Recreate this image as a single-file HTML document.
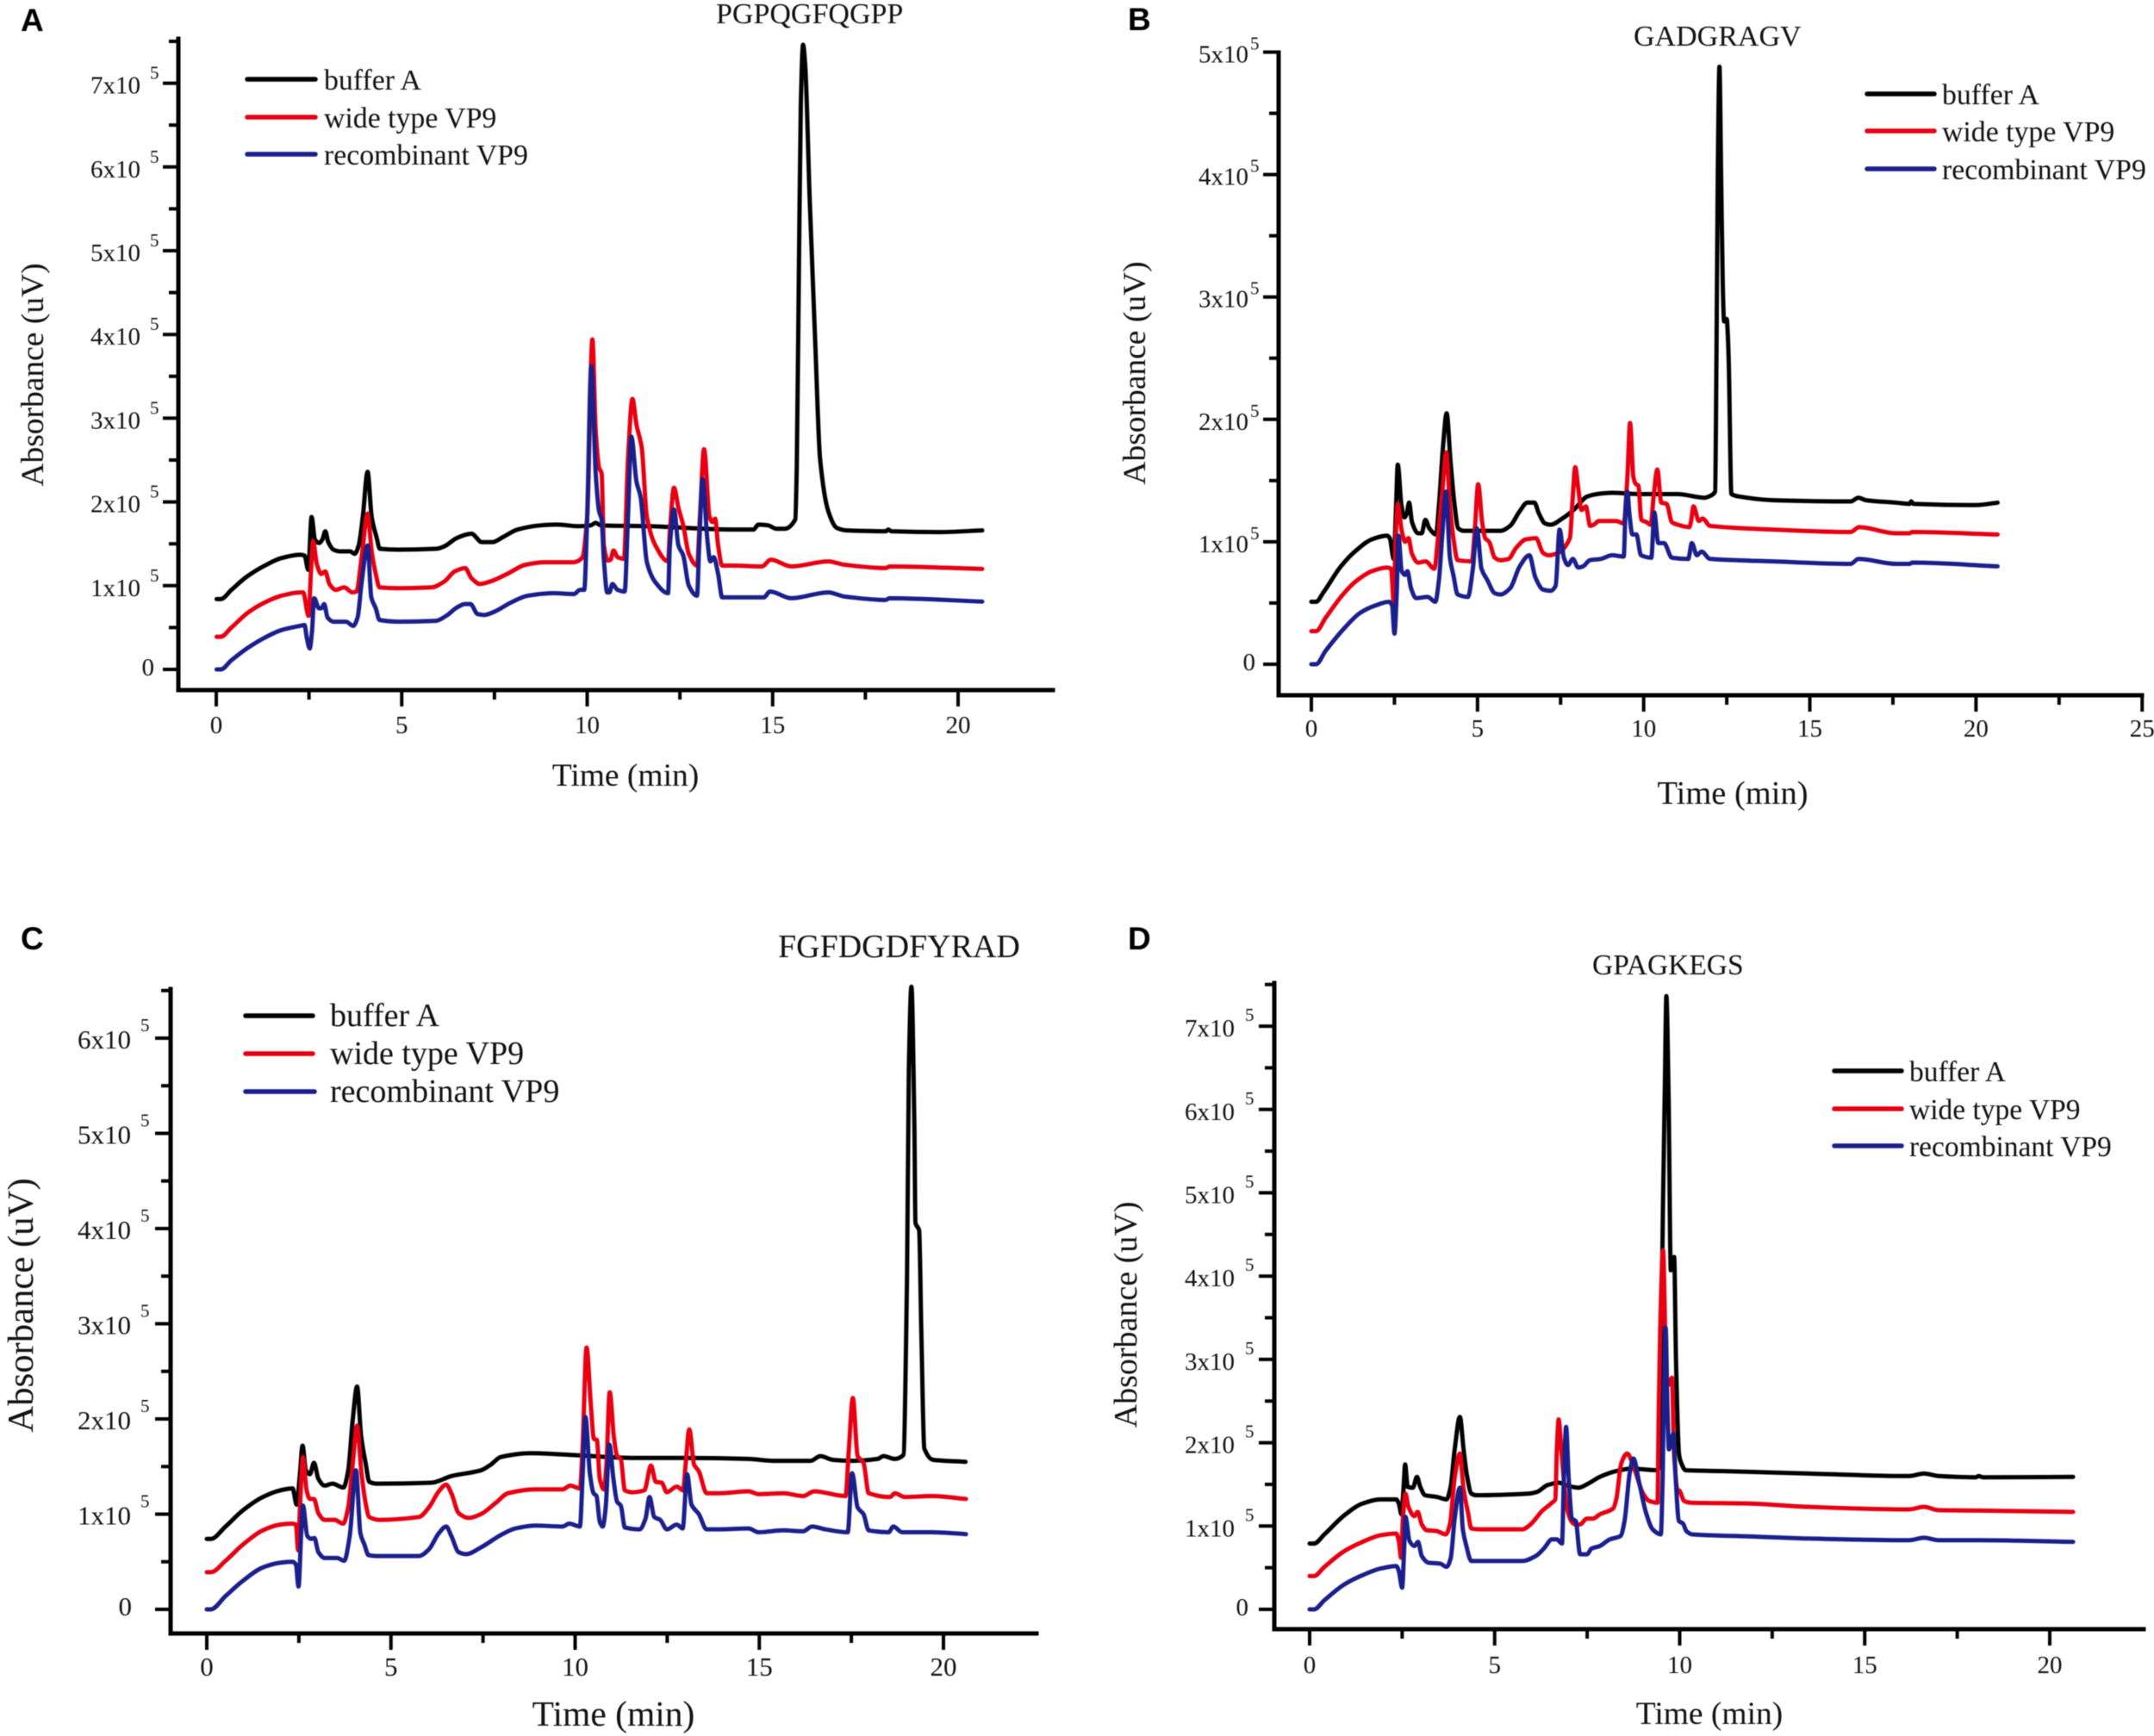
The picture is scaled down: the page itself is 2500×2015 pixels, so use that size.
<!DOCTYPE html>
<html lang="en">
<head>
<meta charset="utf-8">
<title>Absorbance chromatograms of four peptides</title>
<style>
html,body{margin:0;padding:0;background:#fff;}
svg{display:block;filter:blur(0.5px);}
text{font-family:"Liberation Serif",serif;fill:#111;}
.letter{font-family:"Liberation Sans",sans-serif;font-weight:700;font-size:37px;fill:#000;}
.curve{fill:none;stroke-width:5;stroke-linejoin:round;stroke-linecap:round;}
.legline{stroke-width:5.5;stroke-linecap:round;}
</style>
</head>
<body>
<svg id="figure" xmlns="http://www.w3.org/2000/svg" width="2500" height="2015" viewBox="0 0 2500 2015">
<rect width="2500" height="2015" fill="#fff"/>

<g id="panel-a">
<text class="letter" x="24" y="36">A</text>
<text x="831" y="27" font-size="34">PGPQGFQGPP</text>
<text x="726" y="912" font-size="37.5" text-anchor="middle">Time (min)</text>
<text transform="translate(50,435) rotate(-90)" font-size="37.5" text-anchor="middle">Absorbance (uV)</text>
<g>
<line class="legline" x1="287" y1="92" x2="366" y2="92" stroke="#000"/>
<text x="376" y="104" font-size="33.8">buffer A</text>
<line class="legline" x1="287" y1="136" x2="366" y2="136" stroke="#e60012"/>
<text x="376" y="148" font-size="33.8">wide type VP9</text>
<line class="legline" x1="287" y1="179" x2="366" y2="179" stroke="#1a1f8c"/>
<text x="376" y="191" font-size="33.8">recombinant VP9</text>
</g>
</g>

<g id="panel-b">
<text class="letter" x="1309" y="35">B</text>
<text x="1896" y="53" font-size="34">GADGRAGV</text>
<text x="2011" y="933" font-size="38.5" text-anchor="middle">Time (min)</text>
<text transform="translate(1329,433) rotate(-90)" font-size="37.5" text-anchor="middle">Absorbance (uV)</text>
<g>
<line class="legline" x1="2167" y1="109" x2="2245" y2="109" stroke="#000"/>
<text x="2254" y="121" font-size="33.8">buffer A</text>
<line class="legline" x1="2167" y1="152" x2="2245" y2="152" stroke="#e60012"/>
<text x="2254" y="164" font-size="33.8">wide type VP9</text>
<line class="legline" x1="2167" y1="196" x2="2245" y2="196" stroke="#1a1f8c"/>
<text x="2254" y="208" font-size="33.8">recombinant VP9</text>
</g>
</g>

<g id="panel-c">
<text class="letter" x="24" y="1102">C</text>
<text x="903" y="1111" font-size="38">FGFDGDFYRAD</text>
<text x="712" y="2003" font-size="41.5" text-anchor="middle">Time (min)</text>
<text transform="translate(38,1515) rotate(-90)" font-size="42.7" text-anchor="middle">Absorbance (uV)</text>
<g>
<line class="legline" x1="285" y1="1179" x2="363" y2="1179" stroke="#000"/>
<text x="383" y="1191" font-size="38">buffer A</text>
<line class="legline" x1="285" y1="1223" x2="363" y2="1223" stroke="#e60012"/>
<text x="383" y="1235" font-size="38">wide type VP9</text>
<line class="legline" x1="285" y1="1267" x2="365" y2="1267" stroke="#1a1f8c"/>
<text x="383" y="1279" font-size="38">recombinant VP9</text>
</g>
</g>

<g id="panel-d">
<text class="letter" x="1309" y="1102">D</text>
<text x="1848" y="1131" font-size="33.5">GPAGKEGS</text>
<text x="1984" y="2001" font-size="37.5" text-anchor="middle">Time (min)</text>
<text transform="translate(1319,1526) rotate(-90)" font-size="38" text-anchor="middle">Absorbance (uV)</text>
<g>
<line class="legline" x1="2129" y1="1243" x2="2207" y2="1243" stroke="#000"/>
<text x="2216" y="1255" font-size="33.5">buffer A</text>
<line class="legline" x1="2129" y1="1287" x2="2207" y2="1287" stroke="#e60012"/>
<text x="2216" y="1299" font-size="33.5">wide type VP9</text>
<line class="legline" x1="2129" y1="1330" x2="2207" y2="1330" stroke="#1a1f8c"/>
<text x="2216" y="1342" font-size="33.5">recombinant VP9</text>
</g>
</g>
</svg>

<script>
// Values: time in minutes, absorbance in units of 10^5 uV.
const xTickValues = [0, 5, 10, 15, 20];
const xTickValuesB = [0, 5, 10, 15, 20, 25];
const yTickValuesA = [0, 1, 2, 3, 4, 5, 6, 7];
const yTickValuesB = [0, 1, 2, 3, 4, 5];
const yTickValuesC = [0, 1, 2, 3, 4, 5, 6];
const yTickValuesD = [0, 1, 2, 3, 4, 5, 6, 7];

const timeA_buffer = [0.01,0.12,0.41,0.80,1.31,1.76,2.26,2.38,2.48,2.57,2.66,2.77,2.86,2.94,3.02,3.16,3.33,3.61,3.73,3.84,3.95,4.08,4.19,4.32,4.41,4.91,5.92,6.15,6.49,6.88,7.16,7.44,7.73,8.12,8.74,9.19,9.75,10.09,10.23,10.37,11.67,13.92,14.48,14.62,14.88,15.10,15.33,15.61,15.65,15.71,15.76,15.82,15.88,16.00,16.15,16.28,16.50,16.73,17.00,18.05,18.12,18.20,19.50,20.65];
const absA_buffer  = [0.84,0.84,0.95,1.10,1.24,1.33,1.37,1.36,1.19,1.82,1.55,1.51,1.55,1.65,1.52,1.43,1.41,1.41,1.38,1.48,1.82,2.36,1.82,1.58,1.44,1.43,1.44,1.47,1.57,1.62,1.52,1.52,1.58,1.67,1.72,1.73,1.71,1.72,1.75,1.72,1.71,1.67,1.67,1.73,1.72,1.68,1.68,1.79,2.40,4.87,6.75,7.46,7.20,5.60,3.88,2.51,1.89,1.69,1.66,1.65,1.67,1.65,1.64,1.66];
const timeA_wild = [0.01,0.12,0.41,0.86,1.31,1.76,2.26,2.34,2.49,2.55,2.61,2.71,2.83,2.94,3.05,3.22,3.45,3.67,3.78,3.92,4.08,4.19,4.30,4.40,4.91,5.81,6.15,6.43,6.71,6.88,7.11,7.39,7.84,8.34,8.85,9.64,9.86,10.00,10.14,10.23,10.32,10.39,10.45,10.56,10.63,10.71,10.82,10.99,11.10,11.22,11.33,11.47,11.61,11.84,12.18,12.23,12.34,12.46,12.59,12.74,12.96,13.04,13.15,13.30,13.38,13.45,13.53,13.64,13.92,14.71,14.95,15.50,16.50,16.94,18.05,18.15,20.65];
const absA_wild  = [0.39,0.39,0.50,0.68,0.80,0.88,0.92,0.92,0.64,1.14,1.53,1.26,1.14,1.17,1.02,0.95,0.98,0.92,0.93,1.34,1.86,1.41,1.14,0.98,0.97,0.98,1.05,1.17,1.21,1.09,1.02,1.05,1.14,1.25,1.28,1.28,1.33,1.82,3.94,2.85,2.41,2.34,1.48,1.30,1.31,1.42,1.34,1.32,2.51,3.23,2.92,2.65,1.82,1.48,1.29,1.65,2.17,1.93,1.72,1.38,1.24,1.82,2.63,1.82,1.76,1.80,1.48,1.24,1.24,1.23,1.31,1.23,1.29,1.25,1.21,1.23,1.20];
const timeA_recomb = [0.01,0.12,0.41,0.86,1.31,1.76,2.26,2.38,2.44,2.52,2.58,2.64,2.77,2.83,2.91,3.00,3.16,3.50,3.69,3.81,3.92,4.08,4.18,4.30,4.40,4.91,5.92,6.20,6.49,6.71,6.85,7.05,7.22,7.50,7.95,8.40,9.08,9.64,9.81,9.92,10.00,10.11,10.23,10.32,10.39,10.45,10.54,10.60,10.68,10.82,11.01,11.10,11.19,11.33,11.44,11.61,11.84,12.18,12.23,12.34,12.46,12.59,12.74,12.96,13.02,13.11,13.24,13.32,13.41,13.53,13.64,13.92,14.76,14.93,15.50,16.50,16.94,18.05,18.15,20.65];
const absA_recomb  = [0.00,0.00,0.11,0.26,0.38,0.47,0.52,0.53,0.38,0.25,0.45,0.85,0.73,0.73,0.78,0.62,0.57,0.57,0.52,0.62,1.04,1.48,0.86,0.73,0.59,0.57,0.58,0.64,0.74,0.78,0.78,0.66,0.65,0.69,0.80,0.88,0.91,0.90,0.95,0.95,1.82,3.62,2.34,1.89,1.79,1.31,0.92,0.92,1.02,0.95,0.93,1.82,2.78,2.24,2.06,1.28,1.04,0.91,1.48,1.91,1.48,1.36,1.00,0.88,1.48,2.27,1.55,1.29,1.34,1.14,0.86,0.86,0.86,0.93,0.85,0.92,0.87,0.83,0.85,0.81];

const timeB_buffer = [0.00,0.14,0.37,0.89,1.35,1.82,2.28,2.36,2.48,2.55,2.60,2.71,2.80,2.87,2.94,3.03,3.21,3.32,3.43,3.55,3.75,3.84,3.96,4.07,4.19,4.31,4.42,4.59,5.69,5.98,6.27,6.50,6.71,6.85,7.03,7.20,7.55,7.89,8.30,8.59,9.05,9.86,11.02,11.83,12.04,12.15,12.19,12.23,12.28,12.33,12.38,12.42,12.50,12.53,12.56,12.64,12.87,13.91,16.23,16.46,16.69,17.59,18.00,18.05,18.12,20.00,20.65];
const absB_buffer  = [0.51,0.51,0.59,0.80,0.93,1.02,1.05,1.03,0.86,1.30,1.63,1.30,1.20,1.23,1.32,1.16,1.07,1.07,1.18,1.11,1.06,1.30,1.77,2.05,1.65,1.30,1.11,1.09,1.09,1.13,1.25,1.32,1.32,1.23,1.15,1.14,1.19,1.26,1.37,1.39,1.40,1.39,1.39,1.36,1.38,1.41,2.50,4.00,4.88,4.00,3.10,2.80,2.82,2.70,2.47,1.39,1.37,1.34,1.33,1.36,1.34,1.32,1.31,1.33,1.31,1.30,1.32];
const timeB_wild = [0.00,0.14,0.43,0.95,1.35,1.82,2.28,2.40,2.48,2.53,2.60,2.72,2.82,2.92,3.03,3.21,3.44,3.70,3.82,3.94,4.06,4.17,4.28,4.40,4.83,4.91,5.02,5.14,5.23,5.35,5.52,5.69,5.93,6.16,6.45,6.76,6.97,7.14,7.43,7.78,7.86,7.94,8.03,8.13,8.26,8.39,8.50,8.65,9.17,9.40,9.51,9.59,9.69,9.77,9.84,9.93,10.09,10.21,10.30,10.41,10.53,10.69,10.85,11.02,11.37,11.42,11.50,11.66,11.77,12.00,13.91,16.23,16.48,17.59,18.00,18.08,20.65];
const absB_wild  = [0.27,0.27,0.38,0.57,0.68,0.76,0.79,0.78,0.50,0.97,1.31,1.09,1.00,1.03,0.90,0.83,0.84,0.78,1.06,1.41,1.73,1.30,1.02,0.85,0.84,1.06,1.47,1.16,1.03,1.00,0.87,0.85,0.86,0.95,1.02,1.03,0.91,0.89,0.91,1.03,1.34,1.61,1.44,1.26,1.29,1.13,1.14,1.17,1.17,1.15,1.53,1.97,1.53,1.47,1.46,1.18,1.16,1.14,1.37,1.59,1.32,1.31,1.16,1.14,1.12,1.16,1.29,1.17,1.19,1.13,1.10,1.08,1.12,1.07,1.07,1.08,1.06];
const timeB_recomb = [0.00,0.14,0.43,1.01,1.47,1.93,2.34,2.43,2.50,2.57,2.62,2.72,2.82,2.89,3.00,3.15,3.50,3.73,3.84,3.94,4.05,4.17,4.28,4.40,4.71,4.86,4.98,5.12,5.29,5.52,5.69,5.98,6.27,6.56,6.74,6.97,7.20,7.35,7.47,7.60,7.72,7.87,8.03,8.18,8.38,8.70,9.05,9.40,9.46,9.51,9.57,9.66,9.78,9.92,10.23,10.32,10.44,10.61,10.85,11.34,11.45,11.60,11.74,12.00,13.91,16.23,16.46,17.59,18.00,18.08,20.65];
const absB_recomb  = [0.00,0.00,0.11,0.30,0.42,0.48,0.51,0.48,0.25,0.59,1.05,0.76,0.73,0.76,0.62,0.54,0.55,0.51,0.69,1.06,1.41,0.87,0.72,0.57,0.55,0.78,1.11,0.78,0.69,0.58,0.57,0.62,0.80,0.89,0.71,0.61,0.60,0.64,1.10,0.87,0.81,0.86,0.79,0.80,0.85,0.86,0.89,0.88,1.30,1.41,1.23,1.06,1.06,0.89,0.87,1.24,0.99,0.99,0.87,0.86,0.99,0.89,0.92,0.86,0.84,0.82,0.86,0.82,0.82,0.83,0.80];

const timeC_buffer = [0.00,0.11,0.51,0.98,1.52,1.99,2.33,2.44,2.53,2.60,2.69,2.80,2.91,3.03,3.20,3.41,3.71,3.84,3.96,4.08,4.19,4.32,4.41,4.62,6.10,6.64,7.44,7.71,7.98,8.79,10.00,11.62,12.96,14.71,15.38,16.39,16.66,17.00,17.54,18.21,18.37,18.68,18.91,19.01,19.06,19.13,19.21,19.24,19.34,19.40,19.48,19.72,20.60];
const absC_buffer  = [0.74,0.74,0.87,1.04,1.18,1.25,1.27,1.10,1.43,1.72,1.46,1.42,1.54,1.37,1.30,1.32,1.28,1.46,1.98,2.34,1.82,1.52,1.34,1.32,1.33,1.40,1.46,1.52,1.60,1.64,1.62,1.59,1.59,1.58,1.56,1.56,1.61,1.57,1.56,1.58,1.61,1.58,1.62,3.46,5.66,6.54,5.10,4.06,3.98,2.90,1.69,1.57,1.55];
const timeC_wild = [0.00,0.11,0.51,0.98,1.52,1.99,2.33,2.42,2.48,2.53,2.61,2.71,2.80,2.91,3.03,3.20,3.47,3.70,3.84,3.96,4.08,4.20,4.32,4.41,4.68,5.76,6.03,6.30,6.50,6.64,6.84,7.11,7.44,7.85,8.18,8.92,9.66,9.87,10.13,10.20,10.31,10.43,10.51,10.59,10.67,10.78,10.85,10.94,11.05,11.14,11.24,11.35,11.55,11.88,12.06,12.19,12.35,12.49,12.76,12.93,13.00,13.10,13.23,13.36,13.57,13.90,14.71,14.98,15.65,16.19,16.49,17.34,17.43,17.54,17.67,17.83,17.97,18.55,18.68,18.95,19.69,20.61];
const absC_wild  = [0.39,0.39,0.51,0.68,0.83,0.89,0.90,0.89,0.62,1.07,1.60,1.25,1.16,1.16,1.01,0.94,0.94,0.90,1.07,1.52,1.93,1.43,1.10,0.97,0.94,0.97,1.07,1.24,1.31,1.22,1.01,0.96,1.00,1.12,1.22,1.26,1.26,1.30,1.27,1.67,2.75,2.13,1.79,1.78,1.37,1.26,1.52,2.28,1.82,1.61,1.58,1.25,1.23,1.25,1.51,1.34,1.33,1.23,1.29,1.25,1.52,1.89,1.52,1.45,1.22,1.22,1.24,1.21,1.22,1.19,1.24,1.19,1.67,2.22,1.61,1.54,1.22,1.18,1.22,1.18,1.19,1.16];
const timeC_recomb = [0.00,0.11,0.51,0.98,1.52,1.99,2.33,2.42,2.49,2.56,2.61,2.73,2.84,2.92,3.03,3.20,3.54,3.73,3.88,4.05,4.17,4.28,4.39,4.62,5.76,6.03,6.30,6.50,6.64,6.84,7.04,7.44,7.98,8.38,8.92,9.66,9.84,10.13,10.20,10.28,10.40,10.50,10.58,10.67,10.75,10.83,10.93,11.04,11.14,11.24,11.35,11.75,11.91,12.02,12.15,12.31,12.49,12.76,12.92,13.04,13.16,13.36,13.57,13.90,14.71,14.98,15.65,16.19,16.43,16.80,17.40,17.52,17.67,17.83,17.97,18.51,18.64,18.88,19.69,20.61];
const absC_recomb  = [0.00,0.00,0.14,0.30,0.44,0.49,0.50,0.47,0.24,0.77,1.09,0.77,0.74,0.75,0.60,0.54,0.54,0.51,0.77,1.46,0.80,0.68,0.57,0.56,0.56,0.63,0.80,0.87,0.77,0.60,0.58,0.65,0.78,0.85,0.88,0.87,0.90,0.87,1.37,2.02,1.43,1.22,1.19,0.92,0.87,1.07,1.73,1.37,1.13,1.09,0.86,0.84,0.95,1.18,0.97,0.94,0.84,0.89,0.85,1.42,1.10,1.00,0.84,0.84,0.85,0.81,0.83,0.82,0.87,0.84,0.81,1.43,1.07,1.00,0.83,0.81,0.87,0.81,0.81,0.79];

const timeD_buffer = [0.00,0.12,0.40,0.94,1.43,1.92,2.34,2.41,2.48,2.54,2.58,2.65,2.79,2.90,2.99,3.12,3.43,3.70,3.81,3.92,4.06,4.16,4.25,4.37,4.50,5.93,6.15,6.42,6.73,7.00,7.26,7.53,7.84,8.29,8.69,9.36,9.45,9.55,9.60,9.64,9.70,9.76,9.85,9.90,9.98,10.03,10.16,11.10,13.49,16.20,16.60,17.00,18.00,18.08,18.20,20.63];
const absD_buffer  = [0.79,0.79,0.90,1.13,1.27,1.32,1.32,1.27,1.14,1.47,1.74,1.47,1.46,1.59,1.47,1.37,1.35,1.32,1.47,1.92,2.31,1.92,1.61,1.39,1.37,1.39,1.41,1.49,1.52,1.48,1.46,1.51,1.59,1.66,1.69,1.67,1.70,4.89,6.30,7.36,6.15,4.07,4.23,3.00,1.87,1.77,1.67,1.66,1.63,1.60,1.63,1.60,1.585,1.60,1.585,1.59];
const timeD_wild = [0.00,0.12,0.40,0.94,1.43,1.92,2.34,2.41,2.47,2.52,2.59,2.67,2.83,2.92,3.03,3.16,3.43,3.68,3.79,3.92,4.06,4.16,4.28,4.37,4.59,5.75,5.97,6.28,6.55,6.64,6.68,6.73,6.80,6.95,7.07,7.17,7.31,7.49,7.66,7.84,8.20,8.29,8.42,8.58,8.78,9.00,9.18,9.40,9.43,9.47,9.55,9.64,9.72,9.79,9.85,9.94,10.00,10.12,10.29,11.90,13.49,16.20,16.60,17.00,18.10,20.63];
const absD_wild  = [0.40,0.40,0.51,0.70,0.81,0.89,0.91,0.82,0.62,1.09,1.39,1.23,1.12,1.17,1.02,0.95,0.94,0.90,1.02,1.58,1.87,1.44,1.16,0.97,0.96,0.96,1.02,1.18,1.28,1.32,1.92,2.28,1.92,1.23,1.06,1.02,1.02,1.09,1.09,1.14,1.21,1.33,1.75,1.87,1.68,1.40,1.30,1.28,2.27,3.30,4.31,2.81,2.70,2.78,1.85,1.44,1.42,1.30,1.28,1.27,1.23,1.20,1.23,1.19,1.185,1.17];
const timeD_recomb = [0.00,0.12,0.40,0.94,1.43,1.92,2.34,2.41,2.50,2.55,2.59,2.70,2.83,2.93,3.03,3.21,3.52,3.70,3.81,3.92,4.06,4.14,4.23,4.37,4.59,5.75,6.11,6.33,6.55,6.68,6.82,6.87,6.93,7.00,7.09,7.19,7.31,7.49,7.62,7.84,8.11,8.40,8.51,8.65,8.75,8.91,9.09,9.27,9.49,9.54,9.59,9.62,9.67,9.71,9.83,9.89,9.98,10.09,10.18,10.34,11.90,13.49,16.20,16.60,17.00,18.10,20.63];
const absD_recomb  = [0.00,0.00,0.11,0.30,0.41,0.49,0.52,0.46,0.26,0.68,1.11,0.82,0.76,0.81,0.64,0.56,0.55,0.51,0.61,1.09,1.46,0.96,0.77,0.58,0.58,0.58,0.64,0.73,0.84,0.84,0.79,1.58,2.19,1.58,1.09,1.06,0.66,0.66,0.73,0.76,0.84,0.88,1.06,1.64,1.81,1.51,1.16,0.96,0.90,1.58,3.00,3.38,2.40,1.92,2.11,1.58,1.06,1.03,0.94,0.90,0.875,0.85,0.83,0.86,0.83,0.83,0.81];

const seriesColors = ['#000000', '#e60012', '#1a1f8c'];
const seriesNames = ['buffer-a', 'wide-type-vp9', 'recombinant-vp9'];
const NS = 'http://www.w3.org/2000/svg';

// Cubic path that never overshoots between the read points.
function smoothPath(px) {
  const n = px.length, d = [], m = [];
  for (let i = 0; i < n - 1; i++) d.push((px[i + 1][1] - px[i][1]) / ((px[i + 1][0] - px[i][0]) || 1));
  m.push(d[0]);
  for (let i = 1; i < n - 1; i++) m.push(d[i - 1] * d[i] <= 0 ? 0 : 2 * d[i - 1] * d[i] / (d[i - 1] + d[i]));
  m.push(d[n - 2]);
  let s = 'M' + px[0][0].toFixed(2) + ' ' + px[0][1].toFixed(2);
  for (let i = 0; i < n - 1; i++) {
    const h = (px[i + 1][0] - px[i][0]) / 3;
    s += 'C' + (px[i][0] + h).toFixed(2) + ' ' + (px[i][1] + m[i] * h).toFixed(2) + ' ' +
         (px[i + 1][0] - h).toFixed(2) + ' ' + (px[i + 1][1] - m[i + 1] * h).toFixed(2) + ' ' +
         px[i + 1][0].toFixed(2) + ' ' + px[i + 1][1].toFixed(2);
  }
  return s;
}

function line(parent, x1, y1, x2, y2, w) {
  const el = document.createElementNS(NS, 'line');
  el.setAttribute('x1', x1);
  el.setAttribute('y1', y1);
  el.setAttribute('x2', x2);
  el.setAttribute('y2', y2);
  el.setAttribute('stroke', '#000');
  el.setAttribute('stroke-width', w);
  el.setAttribute('stroke-linecap', 'square');
  parent.appendChild(el);
  return el;
}

function label(parent, x, y, size, anchor, str) {
  const el = document.createElementNS(NS, 'text');
  el.setAttribute('x', x);
  el.setAttribute('y', y);
  el.setAttribute('font-size', size);
  el.setAttribute('text-anchor', anchor);
  el.textContent = str;
  parent.appendChild(el);
  return el;
}

function drawPanel(c) {
  const root = document.getElementById(c.id);
  const xScale = t => c.x0 + t * c.xPerMin;
  const yScale = v => c.y0 - v * c.yPerUnit;

  const axes = document.createElementNS(NS, 'g');
  
  
  root.appendChild(axes);

  const yAxis = line(axes, c.axisX, c.top, c.axisX, c.axisY, 5);
  
  
  const xAxis = line(axes, c.axisX, c.axisY, c.right, c.axisY, 5);
  
  

  c.xTicks.forEach((t, i) => {
    const tick = line(axes, xScale(t), c.axisY, xScale(t), c.axisY + 17, 4);
    
    
    const text = label(axes, xScale(t), c.xLabelY, c.tickSize, 'middle', String(t));
    
    
    if (i < c.xTicks.length - 1) {
      const mid = (t + c.xTicks[i + 1]) / 2;
      const minor = line(axes, xScale(mid), c.axisY, xScale(mid), c.axisY + 9, 4);
      
      
    }
  });

  c.yTicks.forEach((v, i) => {
    const y = yScale(v);
    const tick = line(axes, c.axisX - 16, y, c.axisX, y, 4);
    
    
    const midV = v + 0.5;
    if (yScale(midV) >= c.top - 1) {
      const minor = line(axes, c.axisX - 9, yScale(midV), c.axisX, yScale(midV), 4);
      
      
    }
    if (v === 0) {
      const zero = label(axes, c.zeroRight, y + 7, c.tickSize, 'end', '0');
      
      
    } else {
      const text = label(axes, c.labelRight, y + 12, c.tickSize, 'end', v + 'x10');
      
      
      const sup = label(axes, c.supX, y + c.supDy, 21, 'start', '5');
      
      
    }
  });

  c.series.forEach((s, i) => {
    const n = Math.min(s[0].length, s[1].length);
    const pts = [];
    for (let k = 0; k < n; k++) pts.push([xScale(s[0][k]), yScale(s[1][k])]);
    const path = document.createElementNS(NS, 'path');
    path.setAttribute('class', 'curve');
    path.setAttribute('stroke', seriesColors[i]);
    path.setAttribute('d', smoothPath(pts));
    
    
    root.appendChild(path);
  });
}

drawPanel({id:'panel-a', x0:251, xPerMin:43.05, y0:777, yPerUnit:97.2, axisX:207, axisY:801, top:45, right:1222,
  xTicks:xTickValues, yTicks:yTickValuesA, xLabelY:851, tickSize:29, labelRight:163, zeroRight:179, supX:174, supDy:-5,
  series:[[timeA_buffer,absA_buffer],[timeA_wild,absA_wild],[timeA_recomb,absA_recomb]]});
drawPanel({id:'panel-b', x0:1522, xPerMin:38.57, y0:771, yPerUnit:142.1, axisX:1484, axisY:807, top:61, right:2486,
  xTicks:xTickValuesB, yTicks:yTickValuesB, xLabelY:855, tickSize:29, labelRight:1449, zeroRight:1457, supX:1451, supDy:-3,
  series:[[timeB_buffer,absB_buffer],[timeB_wild,absB_wild],[timeB_recomb,absB_recomb]]});
drawPanel({id:'panel-c', x0:240, xPerMin:42.75, y0:1868, yPerUnit:110.5, axisX:198, axisY:1896, top:1148, right:1203,
  xTicks:xTickValues, yTicks:yTickValuesC, xLabelY:1945, tickSize:31, labelRight:152, zeroRight:153, supX:163, supDy:-8,
  series:[[timeC_buffer,absC_buffer],[timeC_wild,absC_wild],[timeC_recomb,absC_recomb]]});
drawPanel({id:'panel-d', x0:1520, xPerMin:42.95, y0:1868, yPerUnit:96.7, axisX:1479, axisY:1891, top:1141, right:2488,
  xTicks:xTickValues, yTicks:yTickValuesD, xLabelY:1942, tickSize:29, labelRight:1433, zeroRight:1449, supX:1445, supDy:-6,
  series:[[timeD_buffer,absD_buffer],[timeD_wild,absD_wild],[timeD_recomb,absD_recomb]]});
</script>
</body>
</html>
